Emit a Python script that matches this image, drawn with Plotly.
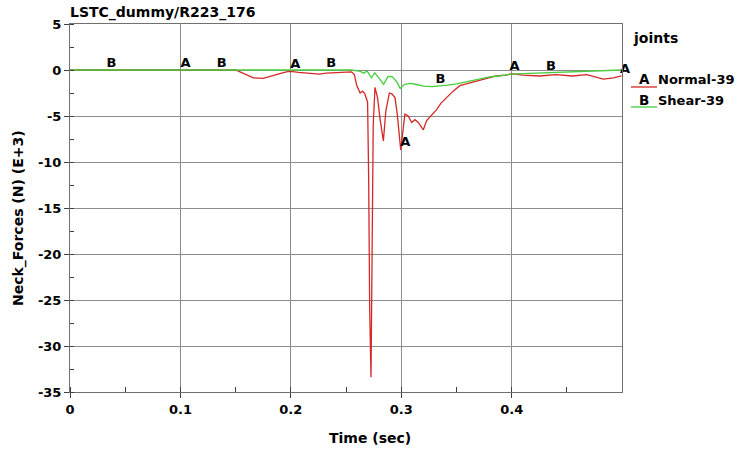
import plotly.graph_objects as go

# ---- data (time in sec, force in kN) ----
t_normal = [0, 0.150, 0.154, 0.160, 0.166, 0.175, 0.184, 0.190, 0.196, 0.200, 0.207, 0.214,
            0.220, 0.226, 0.232, 0.239, 0.245, 0.250, 0.255, 0.2575, 0.2597, 0.2627, 0.265,
            0.267, 0.2695, 0.2705, 0.2714, 0.2726, 0.2737, 0.2746, 0.2762, 0.2785, 0.2810,
            0.2838, 0.2860, 0.2892, 0.2915, 0.2943, 0.2964, 0.2995, 0.3033, 0.3063, 0.3094,
            0.3124, 0.3154, 0.3200, 0.3230, 0.3270, 0.3320, 0.3360, 0.3410, 0.3470, 0.3530,
            0.3620, 0.3740, 0.3860, 0.3950, 0.4000, 0.4100, 0.4250, 0.4400, 0.4550, 0.4680,
            0.4770, 0.4830, 0.4920, 0.4995]
v_normal = [0, 0, -0.2, -0.5, -0.85, -0.9, -0.65, -0.4, -0.2, -0.15, -0.25, -0.35,
            -0.4, -0.45, -0.35, -0.3, -0.25, -0.2, -0.2, -0.5, -1.7, -2.5, -2.3,
            -2.6, -3.5, -12.0, -26.0, -33.4, -22.0, -6.0, -1.9, -3.0, -5.5,
            -7.7, -4.5, -2.5, -2.6, -3.0, -4.8, -8.7, -4.8, -5.0, -5.7,
            -5.4, -5.7, -6.5, -5.5, -5.0, -4.3, -3.6, -3.0, -2.3, -1.7,
            -1.4, -1.0, -0.65, -0.55, -0.4, -0.55, -0.65, -0.5, -0.65, -0.5,
            -0.85, -1.0, -0.85, -0.65]

t_shear = [0, 0.255, 0.260, 0.263, 0.266, 0.269, 0.273, 0.276, 0.280, 0.284, 0.288, 0.292,
           0.296, 0.299, 0.303, 0.308, 0.313, 0.320, 0.328, 0.335, 0.342, 0.350, 0.358,
           0.365, 0.372, 0.380, 0.388, 0.395, 0.400, 0.410, 0.420, 0.430, 0.440, 0.450,
           0.460, 0.470, 0.480, 0.490, 0.4995]
v_shear = [0, 0, -0.1, -0.15, -0.35, -0.1, -0.85, -0.3, -0.9, -1.55, -0.7, -0.75,
           -1.3, -2.0, -1.55, -1.45, -1.55, -1.75, -1.8, -1.75, -1.65, -1.5, -1.3,
           -1.1, -0.95, -0.75, -0.65, -0.55, -0.45, -0.4, -0.35, -0.3, -0.3, -0.25,
           -0.2, -0.15, -0.1, -0.05, 0.0]

# curve identification letters
label_a_t = [0.100, 0.1995, 0.299, 0.398, 0.498]
label_a_v = [0.0, -0.15, -8.6, -0.4, -0.65]
label_b_t = [0.033, 0.133, 0.232, 0.331, 0.431]
label_b_v = [0.0, 0.0, 0.0, -1.75, -0.3]

x_ticks = [0, 0.1, 0.2, 0.3, 0.4]
y_ticks = [5, 0, -5, -10, -15, -20, -25, -30, -35]

RED = "rgb(212,40,40)"
GREEN = "rgb(70,205,60)"
FONT = "DejaVu Sans"

fig = go.Figure()
fig.add_trace(go.Scatter(x=t_normal, y=v_normal, mode="lines",
                         line=dict(color=RED, width=1.3), name="Normal-39"))
fig.add_trace(go.Scatter(x=t_shear, y=v_shear, mode="lines",
                         line=dict(color=GREEN, width=1.3), name="Shear-39"))
fig.add_trace(go.Scatter(x=label_a_t, y=label_a_v, mode="text", text=["A"] * len(label_a_t),
                         textposition="top right", cliponaxis=False,
                         textfont=dict(family=FONT, size=13, color="black", weight="bold")))
fig.add_trace(go.Scatter(x=label_b_t, y=label_b_v, mode="text", text=["B"] * len(label_b_t),
                         textposition="top right", cliponaxis=False,
                         textfont=dict(family=FONT, size=13, color="black", weight="bold")))

axis_common = dict(showline=True, linecolor="#707070", linewidth=1, mirror=True,
                   showgrid=True, gridcolor="#8c8c8c", gridwidth=1, zeroline=False,
                   ticks="outside", ticklen=5, tickcolor="#404040",
                   tickfont=dict(family=FONT, size=13, color="black", weight="bold"))

fig.update_xaxes(range=[0, 0.4999], tickvals=x_ticks, ticktext=[str(v) for v in x_ticks],
                 minor=dict(dtick=0.05, ticks="inside", ticklen=5, tickcolor="#404040",
                            showgrid=False),
                 **axis_common)
fig.update_yaxes(range=[-35, 5], tickvals=y_ticks, ticktext=[str(v) for v in y_ticks],
                 minor=dict(dtick=2.5, ticks="inside", ticklen=4, tickcolor="#404040",
                            showgrid=False),
                 **axis_common)

W, H = 736, 450
L, R, T, B = 70, 114, 24, 58
pw, ph = W - L - R, H - T - B

def px(x):
    return (x - L) / pw

def py(y):
    return (H - B - y) / ph

def ann(text, x, y, xanchor="left", size=14, angle=0):
    return dict(text=text, x=px(x), y=py(y), xref="paper", yref="paper",
                xanchor=xanchor, yanchor="middle", textangle=angle, showarrow=False,
                font=dict(family=FONT, size=size, color="black", weight="bold"))

annotations = [
    ann("Time (sec)", 370, 438, xanchor="center"),
    ann("Neck_Forces (N) (E+3)", 18, 218, xanchor="center", angle=-90),
    ann("joints", 631, 38),
    ann("A", 637, 79, size=13.5),
    ann("Normal-39", 656, 79, size=13),
    ann("B", 637, 100, size=13.5),
    ann("Shear-39", 656, 100, size=13),
]

shapes = [
    dict(type="line", xref="paper", yref="paper", x0=px(631), x1=px(657), y0=py(87), y1=py(87),
         line=dict(color=RED, width=1.3)),
    dict(type="line", xref="paper", yref="paper", x0=px(631), x1=px(657), y0=py(107), y1=py(107),
         line=dict(color=GREEN, width=1.3)),
]

fig.update_layout(
    width=W, height=H,
    margin=dict(l=L, r=R, t=T, b=B),
    paper_bgcolor="white", plot_bgcolor="white",
    showlegend=False,
    title=dict(text="LSTC_dummy/R223_176", x=70 / W, xanchor="left", xref="container",
               y=1 - 12 / H, yanchor="middle", yref="container",
               font=dict(family=FONT, size=14, color="black", weight="bold")),
    annotations=annotations,
    shapes=shapes,
)

fig.write_html("out.html")
